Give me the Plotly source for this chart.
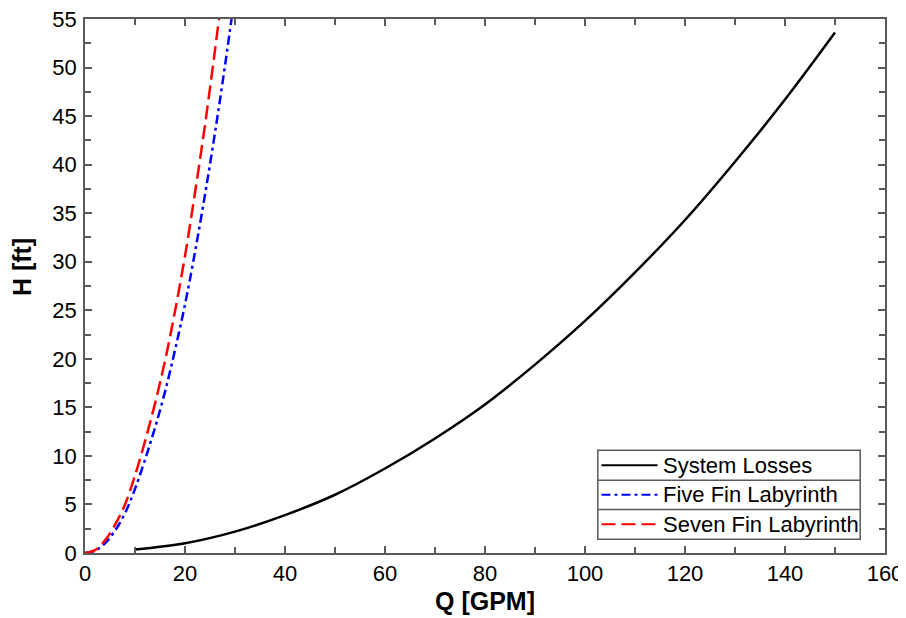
import plotly.graph_objects as go

# System losses
q_sys = [10, 20, 30, 40, 50, 60, 70, 80, 90, 100, 110, 120, 130, 140, 150]
h_sys = [0.35, 1.0, 2.2, 3.9, 6.0, 8.7, 11.8, 15.3, 19.4, 23.9, 28.9, 34.3, 40.3, 46.7, 53.6]

# Five fin labyrinth
q_five = [0, 2, 4, 6, 8, 10, 12, 14, 16, 18, 20, 22, 24, 26, 28, 30]
h_five = [0, 0.25, 1.0, 2.3, 4.1, 6.6, 9.6, 12.9, 16.6, 20.9, 25.6, 31.0, 36.9, 43.3, 50.2, 57.6]

# Seven fin labyrinth
q_seven = [0, 2, 4, 6, 8, 10, 12, 14, 16, 18, 20, 22, 24, 26, 28]
h_seven = [0, 0.3, 1.3, 2.9, 5.0, 8.0, 11.5, 15.4, 19.8, 24.9, 30.6, 37.1, 44.1, 51.8, 60.0]

series_names = ["System Losses", "Five Fin Labyrinth", "Seven Fin Labyrinth"]
series_colors = ["black", "#0000ff", "#ff0000"]
series_dash = ["solid", "9px,4px,3px,4px", "14px,6px"]

x_ticks = [0, 20, 40, 60, 80, 100, 120, 140, 160]
y_ticks = [0, 5, 10, 15, 20, 25, 30, 35, 40, 45, 50, 55]

FONT = "Liberation Sans, Arial, sans-serif"
AXC = "#5a5a5a"

fig = go.Figure()
for qs, hs, nm, col, ds in zip([q_sys, q_five, q_seven], [h_sys, h_five, h_seven],
                               series_names, series_colors, series_dash):
    fig.add_trace(go.Scatter(x=qs, y=hs, mode="lines", name=nm, showlegend=False,
                             line=dict(color=col, width=2.5, dash=ds, shape="spline")))

axis_common = dict(
    showgrid=False, zeroline=False, showline=True, linecolor=AXC, linewidth=1.5,
    mirror="ticks", ticks="inside", ticklen=7, tickcolor=AXC, tickwidth=1.5,
    tickfont=dict(family=FONT, size=22, color="black"), automargin=False,
    ticklabeloverflow="allow",
)

fig.update_xaxes(range=[0, 160], tickvals=x_ticks,
                 minor=dict(dtick=10, ticklen=6, ticks="inside", tickcolor=AXC, tickwidth=1.5),
                 **axis_common)
fig.update_yaxes(range=[0, 55], tickvals=y_ticks, ticklabelstandoff=2,
                 minor=dict(dtick=2.5, ticklen=6, ticks="inside", tickcolor=AXC, tickwidth=1.5),
                 **axis_common)

# Axis titles
fig.add_annotation(text="<b>Q [GPM]</b>", xref="paper", yref="paper", x=0.5, y=-0.0905,
                   xanchor="center", yanchor="middle", showarrow=False,
                   font=dict(family=FONT, size=25, color="black"))
fig.add_annotation(text="<b>H [ft]</b>", xref="paper", yref="paper", x=-0.0788, y=0.5353,
                   xanchor="center", yanchor="middle", textangle=-90, showarrow=False,
                   font=dict(family=FONT, size=25, color="black"))

# Legend box (MATLAB style with row separators)
box_x0, box_x1 = 0.641, 0.969
box_y0, box_y1 = 0.0257, 0.1924
row_sep = [0.1362, 0.0813]
row_centers = [0.1643, 0.1089, 0.0538]
sample_x0, sample_x1, text_x = 0.6456, 0.7156, 0.7195

fig.add_shape(type="rect", xref="paper", yref="paper", x0=box_x0, x1=box_x1, y0=box_y0, y1=box_y1,
              line=dict(color=AXC, width=1.5), fillcolor="white", layer="above")
for ys in row_sep:
    fig.add_shape(type="line", xref="paper", yref="paper", x0=box_x0, x1=box_x1, y0=ys, y1=ys,
                  line=dict(color=AXC, width=1.5), layer="above")
for yc, nm, col, ds in zip(row_centers, series_names, series_colors, series_dash):
    fig.add_shape(type="line", xref="paper", yref="paper", x0=sample_x0, x1=sample_x1, y0=yc, y1=yc,
                  line=dict(color=col, width=2, dash=ds), layer="above")
    fig.add_annotation(text=nm, xref="paper", yref="paper", x=text_x, y=yc, xanchor="left",
                       yanchor="middle", showarrow=False,
                       font=dict(family=FONT, size=22, color="black"))

# page body has an 8px margin: size the figure so the plot area lands where the reference has it
fig.update_layout(
    width=898, height=610,
    margin=dict(l=77, r=21, t=11, b=65),
    plot_bgcolor="white", paper_bgcolor="white",
    showlegend=False,
)

fig.write_html("out.html")
